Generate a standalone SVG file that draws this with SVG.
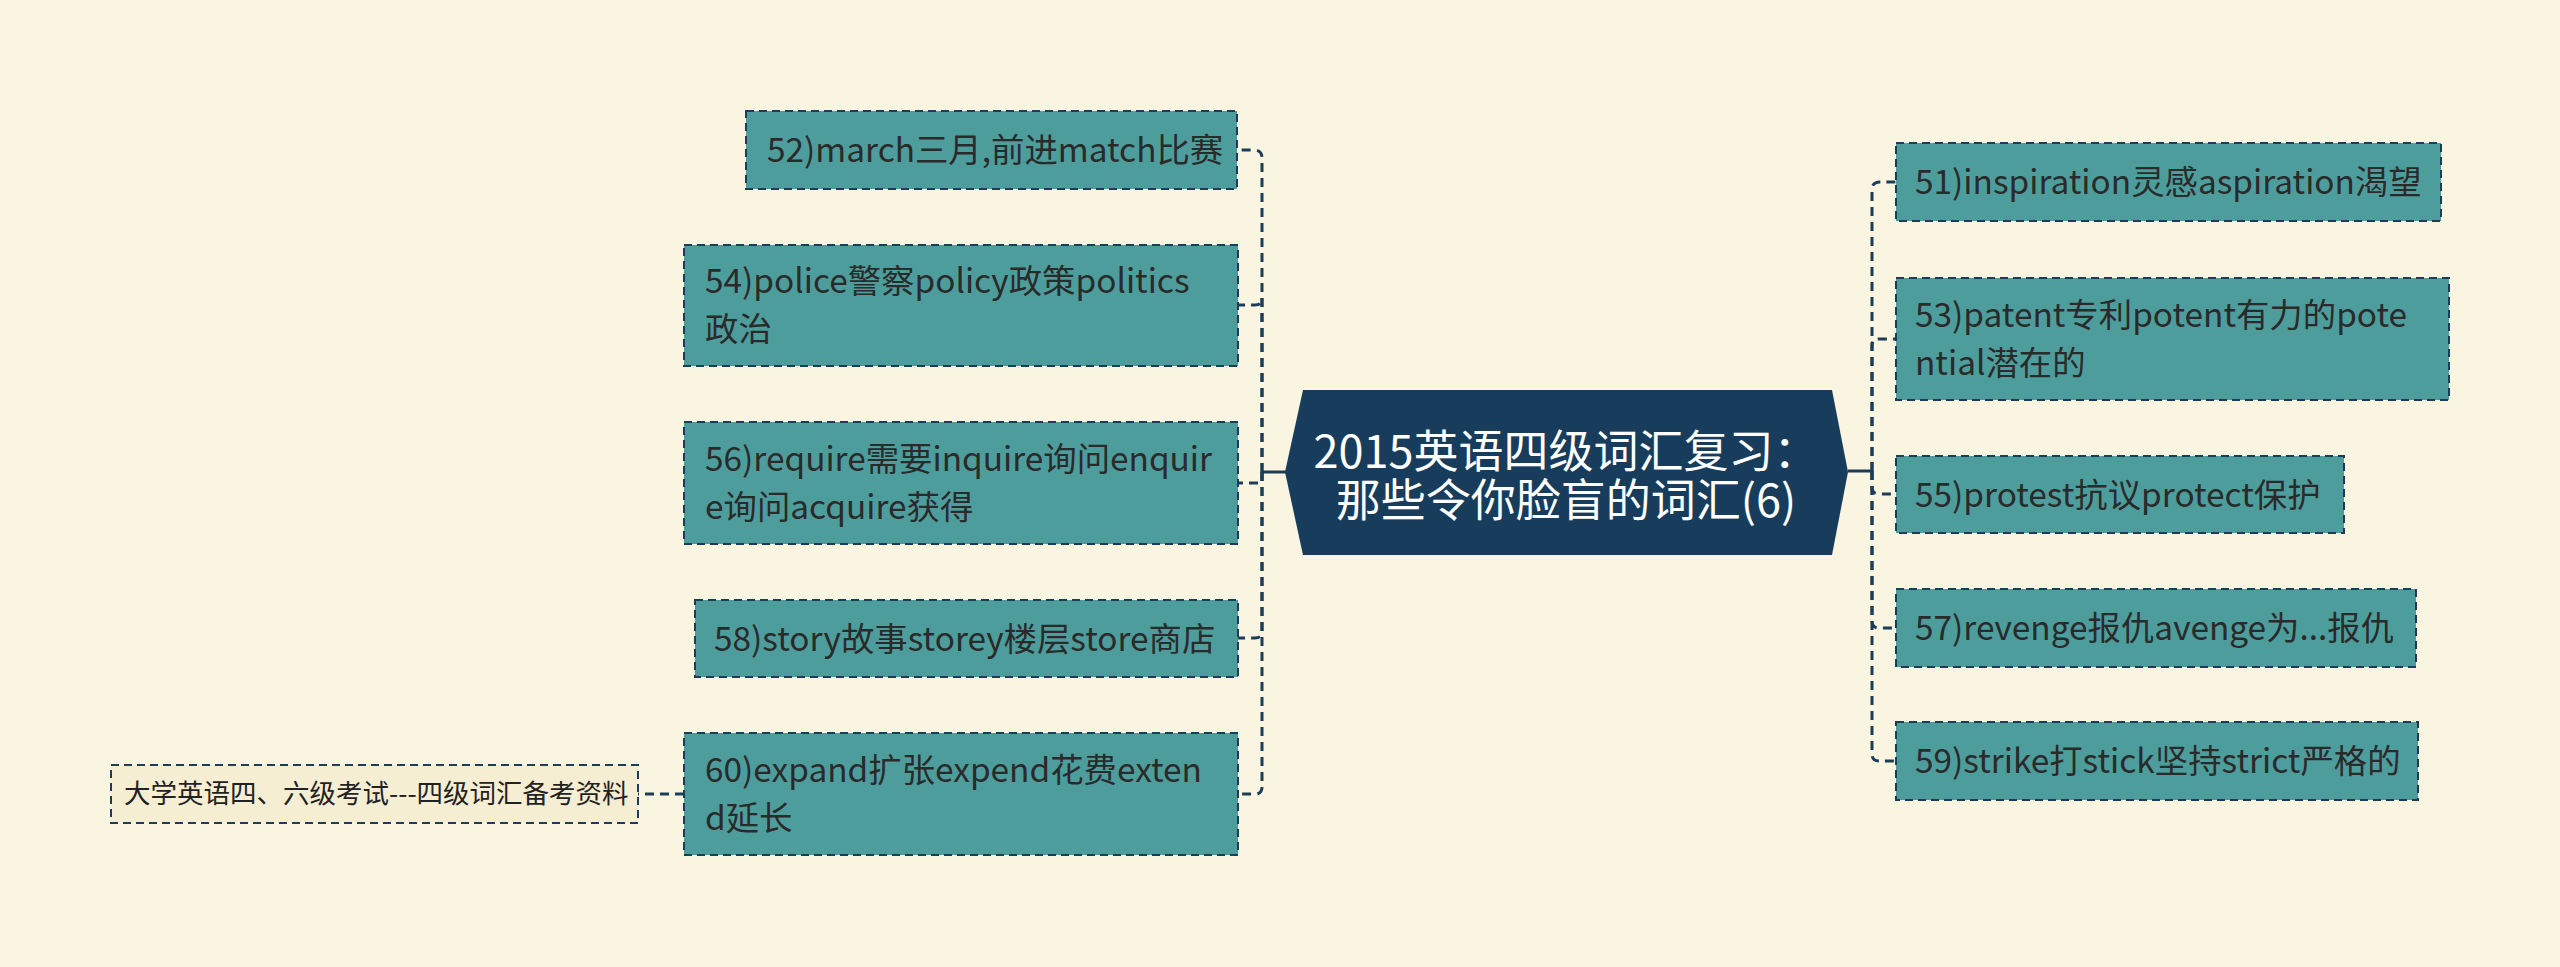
<svg xmlns="http://www.w3.org/2000/svg" width="2560" height="967" viewBox="0 0 2560 967">
<style>
.bg{fill:#faf5e1}
.box{fill:#4e9d9d;stroke:#1c3d58;stroke-width:2;stroke-dasharray:8 5}
.sub{fill:#f6eed3;stroke:#1c3d58;stroke-width:2;stroke-dasharray:8 5}
.t{font-family:"Noto Sans CJK SC","Noto Sans",sans-serif;font-size:33.4px;fill:#2a2a2a}
.ts{font-family:"Noto Sans CJK SC","Noto Sans",sans-serif;font-size:26.5px;fill:#222}
.tc{font-family:"Noto Sans CJK SC","Noto Sans",sans-serif;font-size:45px;fill:#ffffff;text-anchor:middle}
.c{fill:none;stroke:#1c3d58;stroke-width:3}
.d{fill:none;stroke:#1c3d58;stroke-width:3;stroke-dasharray:9 6}
</style>
<rect class="bg" x="0" y="0" width="2560" height="967"/>
<g id="connectors">
<path class="c" d="M1286 472 H1262"/>
<path class="c" d="M1848 471 H1872"/>
<path class="d" d="M1262 472 V158 Q1262 150 1254 150 H1238"/>
<path class="d" d="M1262 472 V298 Q1262 305 1255 305 H1238"/>
<path class="d" d="M1262 472 V483 H1238"/>
<path class="d" d="M1262 472 V631 Q1262 638 1255 638 H1238"/>
<path class="d" d="M1262 472 V787 Q1262 794 1255 794 H1238"/>
<path class="d" d="M1872 471 V190 Q1872 182 1880 182 H1896"/>
<path class="d" d="M1872 471 V346 Q1872 339 1879 339 H1896"/>
<path class="d" d="M1872 471 V487 Q1872 494 1879 494 H1896"/>
<path class="d" d="M1872 471 V621 Q1872 628 1879 628 H1896"/>
<path class="d" d="M1872 471 V754 Q1872 761 1879 761 H1896"/>
<path class="d" d="M684 794 H638"/>
</g>
<g id="center">
<polygon points="1303,390 1832,390 1848,472 1832,555 1303,555 1285,472" fill="#183d5c"/>
<text class="tc" x="1566" y="468">2015英语四级词汇复习：</text>
<text class="tc" x="1566" y="517">那些令你脸盲的词汇(6)</text>
</g>
<g id="n52">
<rect class="box" x="746" y="111" width="491" height="78"/>
<text class="t" x="767" y="162">52)march三月,前进match比赛</text>
</g>
<g id="n54">
<rect class="box" x="684" y="245" width="554" height="121"/>
<text class="t" x="705" y="293">54)police警察policy政策politics</text>
<text class="t" x="705" y="341">政治</text>
</g>
<g id="n56">
<rect class="box" x="684" y="422" width="554" height="122"/>
<text class="t" x="705" y="471">56)require需要inquire询问enquir</text>
<text class="t" x="705" y="519">e询问acquire获得</text>
</g>
<g id="n58">
<rect class="box" x="695" y="600" width="543" height="77"/>
<text class="t" x="714" y="651">58)story故事storey楼层store商店</text>
</g>
<g id="n60">
<rect class="box" x="684" y="733" width="554" height="122"/>
<text class="t" x="705" y="782">60)expand扩张expend花费exten</text>
<text class="t" x="705" y="830">d延长</text>
</g>
<g id="nsub">
<rect class="sub" x="111" y="765" width="527" height="58"/>
<text class="ts" x="124" y="803">大学英语四、六级考试---四级词汇备考资料</text>
</g>
<g id="n51">
<rect class="box" x="1896" y="143" width="545" height="78"/>
<text class="t" x="1915" y="194">51)inspiration灵感aspiration渴望</text>
</g>
<g id="n53">
<rect class="box" x="1896" y="278" width="553" height="122"/>
<text class="t" x="1915" y="327">53)patent专利potent有力的pote</text>
<text class="t" x="1915" y="375">ntial潜在的</text>
</g>
<g id="n55">
<rect class="box" x="1896" y="456" width="448" height="77"/>
<text class="t" x="1915" y="507">55)protest抗议protect保护</text>
</g>
<g id="n57">
<rect class="box" x="1896" y="589" width="520" height="78"/>
<text class="t" x="1915" y="640">57)revenge报仇avenge为...报仇</text>
</g>
<g id="n59">
<rect class="box" x="1896" y="722" width="522" height="78"/>
<text class="t" x="1915" y="773">59)strike打stick坚持strict严格的</text>
</g>
</svg>
